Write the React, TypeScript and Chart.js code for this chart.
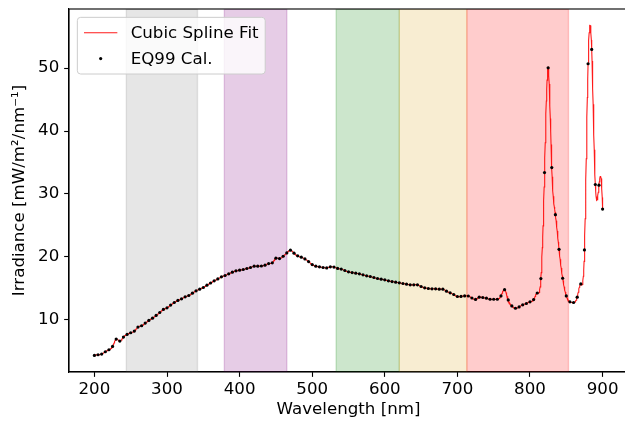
import React, { useEffect, useRef } from "react";
import { Chart, registerables } from "chart.js";

Chart.register(...registerables);

// ---- data ----
const WAVELENGTH_NM = [
  200, 205, 210, 215, 220, 225, 230, 235, 240, 245,
  250, 255, 260, 265, 270, 275, 280, 285, 290, 295,
  300, 305, 310, 315, 320, 325, 330, 335, 340, 345,
  350, 355, 360, 365, 370, 375, 380, 385, 390, 395,
  400, 405, 410, 415, 420, 425, 430, 435, 440, 445,
  450, 455, 460, 465, 470, 475, 480, 485, 490, 495,
  500, 505, 510, 515, 520, 525, 530, 535, 540, 545,
  550, 555, 560, 565, 570, 575, 580, 585, 590, 595,
  600, 605, 610, 615, 620, 625, 630, 635, 640, 645,
  650, 655, 660, 665, 670, 675, 680, 685, 690, 695,
  700, 705, 710, 715, 720, 725, 730, 735, 740, 745,
  750, 755, 760, 765, 770, 775, 780, 785, 790, 795,
  800, 805, 810, 815, 820, 825, 830, 835, 840, 845,
  850, 855, 860, 865, 870, 875, 880, 885, 890, 895,
  900,
];

const IRRADIANCE = [
  4.34, 4.44, 4.55, 4.92, 5.24, 5.77, 6.93, 6.61, 7.25, 7.67,
  7.94, 8.2, 8.84, 9.05, 9.47, 9.9, 10.26, 10.69, 11.16, 11.64,
  11.9, 12.33, 12.75, 13.07, 13.33, 13.65, 13.86, 14.23, 14.6, 14.87,
  15.13, 15.5, 15.85, 16.2, 16.5, 16.83, 17.04, 17.3, 17.57, 17.78,
  17.88, 17.99, 18.15, 18.31, 18.52, 18.52, 18.55, 18.68, 18.94, 19.05,
  19.79, 19.73, 20.1, 20.63, 21.06, 20.58, 20.16, 19.95, 19.68, 19.26,
  18.78, 18.52, 18.41, 18.31, 18.25, 18.41, 18.38, 18.17, 18.06, 17.83,
  17.62, 17.51, 17.41, 17.3, 17.14, 16.98, 16.88, 16.72, 16.56, 16.46,
  16.35, 16.19, 16.08, 15.98, 15.87, 15.77, 15.66, 15.56, 15.56, 15.56,
  15.29, 15.08, 14.97, 14.92, 14.92, 14.87, 14.87, 14.55, 14.29, 14.02,
  13.7, 13.72, 13.8, 13.78, 13.46, 13.23, 13.6, 13.54, 13.44, 13.26,
  13.26, 13.26, 13.8, 14.78, 13.15, 12.2, 11.83, 12.05, 12.38, 12.59,
  12.86, 13.22, 14.26, 16.55, 33.4, 50.05, 34.2, 26.7, 21.2, 16.6,
  13.8, 12.86, 12.75, 13.6, 15.7, 21.1, 50.7, 52.97, 31.5, 31.4,
  27.6,
];

const X_TICKS = [200, 300, 400, 500, 600, 700, 800, 900];
const Y_TICKS = [10, 20, 30, 40, 50];

// shaded wavelength bands [start, end] in nm
const BAND_STARTS = [244, 379, 533, 620, 713];
const BAND_ENDS = [342, 465, 620, 713, 853];

const X_LIMITS = [165, 935];
const Y_LIMITS = [1.7, 59.4];

const SERIES_LABELS = ["Cubic Spline Fit", "EQ99 Cal."];

// ---- styles ----
const BAND_FILLS = [
  "rgba(128,128,128,0.2)",
  "rgba(128,0,128,0.2)",
  "rgba(0,128,0,0.2)",
  "rgba(218,165,32,0.2)",
  "rgba(255,0,0,0.2)",
];
const FONT_FAMILY = "'DejaVu Sans', 'Liberation Sans', sans-serif";
const FONT_SIZE = 16.67;
const PT = 1.389;
const LINE_COLOR = "rgba(255,0,0,0.9)";

// not-a-knot cubic spline (scipy CubicSpline default) through the data
function splineSecondDerivs(xs: number[], ys: number[]): number[] {
  const n = xs.length;
  const h: number[] = [];
  for (let i = 0; i < n - 1; i++) h.push(xs[i + 1] - xs[i]);
  const A: number[][] = Array.from({ length: n }, () => new Array(n).fill(0));
  const b: number[] = new Array(n).fill(0);
  A[0][0] = h[1];
  A[0][1] = -(h[0] + h[1]);
  A[0][2] = h[0];
  for (let i = 1; i < n - 1; i++) {
    A[i][i - 1] = h[i - 1];
    A[i][i] = 2 * (h[i - 1] + h[i]);
    A[i][i + 1] = h[i];
    b[i] = 6 * ((ys[i + 1] - ys[i]) / h[i] - (ys[i] - ys[i - 1]) / h[i - 1]);
  }
  A[n - 1][n - 3] = h[n - 2];
  A[n - 1][n - 2] = -(h[n - 3] + h[n - 2]);
  A[n - 1][n - 1] = h[n - 3];
  for (let c = 0; c < n; c++) {
    let p = c;
    for (let r = c + 1; r < n; r++) if (Math.abs(A[r][c]) > Math.abs(A[p][c])) p = r;
    if (p !== c) {
      const t = A[c]; A[c] = A[p]; A[p] = t;
      const tb = b[c]; b[c] = b[p]; b[p] = tb;
    }
    const piv = A[c][c];
    for (let r = c + 1; r < n; r++) {
      const f = A[r][c] / piv;
      if (f === 0) continue;
      for (let k = c; k < n; k++) A[r][k] -= f * A[c][k];
      b[r] -= f * b[c];
    }
  }
  const M = new Array(n).fill(0);
  for (let r = n - 1; r >= 0; r--) {
    let s = b[r];
    for (let k = r + 1; k < n; k++) s -= A[r][k] * M[k];
    M[r] = s / A[r][r];
  }
  return M;
}

function splineCurve(xs: number[], ys: number[], step: number) {
  const M = splineSecondDerivs(xs, ys);
  const out: { x: number; y: number }[] = [];
  const n = xs.length;
  let i = 0;
  for (let x = xs[0]; x <= xs[n - 1] + 1e-9; x += step) {
    while (i < n - 2 && x > xs[i + 1]) i++;
    const h = xs[i + 1] - xs[i];
    const a = xs[i + 1] - x;
    const c = x - xs[i];
    const y =
      (M[i] * a * a * a) / (6 * h) +
      (M[i + 1] * c * c * c) / (6 * h) +
      (ys[i] / h - (M[i] * h) / 6) * a +
      (ys[i + 1] / h - (M[i + 1] * h) / 6) * c;
    out.push({ x, y });
  }
  return out;
}

const bandsPlugin = {
  id: "bands",
  beforeDatasetsDraw(chart: any) {
    const { ctx, chartArea, scales } = chart;
    ctx.save();
    ctx.beginPath();
    ctx.rect(chartArea.left, chartArea.top, chartArea.right - chartArea.left, chartArea.bottom - chartArea.top);
    ctx.clip();
    BAND_STARTS.forEach((s, i) => {
      const x0 = scales.x.getPixelForValue(s);
      const x1 = scales.x.getPixelForValue(BAND_ENDS[i]);
      ctx.fillStyle = BAND_FILLS[i];
      ctx.fillRect(x0, chartArea.top, x1 - x0, chartArea.bottom - chartArea.top);
      ctx.strokeStyle = BAND_FILLS[i];
      ctx.lineWidth = 1.4;
      ctx.strokeRect(x0, chartArea.top, x1 - x0, chartArea.bottom - chartArea.top);
    });
    ctx.restore();
  },
  afterDatasetsDraw(chart: any) {
    const { ctx, chartArea } = chart;
    ctx.save();
    ctx.strokeStyle = "#000";
    ctx.lineWidth = 0.8 * PT;
    ctx.strokeRect(chartArea.left, chartArea.top, chartArea.right - chartArea.left, chartArea.bottom - chartArea.top);
    ctx.restore();
  },
  afterDraw(chart: any) {
    const { ctx, chartArea } = chart;
    const fs = FONT_SIZE;
    const pad = 0.4 * fs;
    const handleLen = 2 * fs;
    const handleGap = 0.8 * fs;
    const rowH = 1.05 * fs;
    const rowGap = 0.5 * fs;
    ctx.save();
    ctx.font = `${fs}px ${FONT_FAMILY}`;
    const labels = chart.data.datasets.map((d: any) => d.label);
    const tw = Math.max(...labels.map((l: string) => ctx.measureText(l).width));
    const x0 = chartArea.left + 0.5 * fs;
    const y0 = chartArea.top + 0.5 * fs;
    const w = pad + handleLen + handleGap + tw + pad;
    const h = 2 * pad + labels.length * rowH + (labels.length - 1) * rowGap;
    const r = 0.2 * fs;
    ctx.beginPath();
    ctx.moveTo(x0 + r, y0);
    ctx.lineTo(x0 + w - r, y0);
    ctx.arcTo(x0 + w, y0, x0 + w, y0 + r, r);
    ctx.lineTo(x0 + w, y0 + h - r);
    ctx.arcTo(x0 + w, y0 + h, x0 + w - r, y0 + h, r);
    ctx.lineTo(x0 + r, y0 + h);
    ctx.arcTo(x0, y0 + h, x0, y0 + h - r, r);
    ctx.lineTo(x0, y0 + r);
    ctx.arcTo(x0, y0, x0 + r, y0, r);
    ctx.closePath();
    ctx.fillStyle = "rgba(255,255,255,0.8)";
    ctx.fill();
    ctx.strokeStyle = "#cccccc";
    ctx.lineWidth = 1;
    ctx.stroke();
    chart.data.datasets.forEach((d: any, i: number) => {
      const cy = y0 + pad + rowH / 2 + i * (rowH + rowGap);
      const hx = x0 + pad;
      if (d.showLine) {
        ctx.strokeStyle = d.borderColor;
        ctx.lineWidth = d.borderWidth;
        ctx.beginPath();
        ctx.moveTo(hx, cy);
        ctx.lineTo(hx + handleLen, cy);
        ctx.stroke();
      } else {
        ctx.fillStyle = d.backgroundColor;
        ctx.beginPath();
        ctx.arc(hx + handleLen / 2, cy, d.pointRadius, 0, Math.PI * 2);
        ctx.fill();
      }
      ctx.fillStyle = "#000";
      ctx.textBaseline = "middle";
      ctx.textAlign = "left";
      ctx.fillText(d.label, hx + handleLen + handleGap, cy + 1);
    });
    ctx.restore();
  },
};

export default function App() {
  const canvasRef = useRef<HTMLCanvasElement | null>(null);

  useEffect(() => {
    if (!canvasRef.current) return;
    Chart.defaults.font.family = FONT_FAMILY;
    Chart.defaults.font.size = FONT_SIZE;
    Chart.defaults.color = "#000";

    const points = WAVELENGTH_NM.map((x, i) => ({ x, y: IRRADIANCE[i] }));
    const curve = splineCurve(WAVELENGTH_NM, IRRADIANCE, 0.5);

    const tickFont = { family: FONT_FAMILY, size: FONT_SIZE };
    const tickLen = 3.5 * PT;

    const chart = new Chart(canvasRef.current, {
      type: "scatter",
      data: {
        datasets: [
          {
            label: SERIES_LABELS[0],
            data: curve,
            showLine: true,
            borderColor: LINE_COLOR,
            backgroundColor: LINE_COLOR,
            borderWidth: 1.1,
            pointRadius: 0,
            tension: 0,
            order: 1,
          } as any,
          {
            label: SERIES_LABELS[1],
            data: points,
            showLine: false,
            backgroundColor: "#000",
            borderColor: "#000",
            borderWidth: 0,
            pointRadius: 1.6,
            order: 0,
          } as any,
        ],
      },
      options: {
        responsive: false,
        animation: false,
        events: [],
        layout: { padding: { top: 9, right: 2.5, left: 0, bottom: 0 } },
        plugins: { legend: { display: false }, tooltip: { enabled: false } },
        scales: {
          x: {
            type: "linear",
            min: X_LIMITS[0],
            max: X_LIMITS[1],
            afterFit: (s: any) => { s.height = 54; s.paddingLeft = 0; s.paddingRight = 0; },
            afterBuildTicks: (s: any) => { s.ticks = X_TICKS.map((v) => ({ value: v })); },
            ticks: { color: "#000", font: tickFont, padding: 2.5, maxRotation: 0, autoSkip: false, callback: (v: any) => String(v) },
            grid: { drawOnChartArea: false, drawTicks: true, tickLength: tickLen, tickWidth: 0.8 * PT, tickColor: "#000" },
            border: { display: true, color: "#000", width: 0.8 * PT },
            title: { display: true, text: "Wavelength [nm]", color: "#000", font: tickFont, padding: { top: 0, bottom: 6.5 } },
          },
          y: {
            type: "linear",
            min: Y_LIMITS[0],
            max: Y_LIMITS[1],
            afterFit: (s: any) => { s.width = 69; s.paddingTop = 0; s.paddingBottom = 0; },
            afterBuildTicks: (s: any) => { s.ticks = Y_TICKS.map((v) => ({ value: v })); },
            ticks: { color: "#000", font: tickFont, padding: 3.5 * PT, autoSkip: false, callback: (v: any) => String(v) },
            grid: { drawOnChartArea: false, drawTicks: true, tickLength: tickLen, tickWidth: 0.8 * PT, tickColor: "#000" },
            border: { display: true, color: "#000", width: 0.8 * PT },
            title: { display: true, text: "Irradiance [mW/m²/nm⁻¹]", color: "#000", font: tickFont, padding: { top: 10, bottom: 0 } },
          },
        },
      } as any,
      plugins: [bandsPlugin],
    });
    return () => chart.destroy();
  }, []);

  return (
    <div style={{ position: "fixed", left: 0, top: 0, width: 625, height: 426, overflow: "hidden", background: "#fff" }}>
      <canvas ref={canvasRef} width={632} height={426} style={{ display: "block" }} />
    </div>
  );
}
